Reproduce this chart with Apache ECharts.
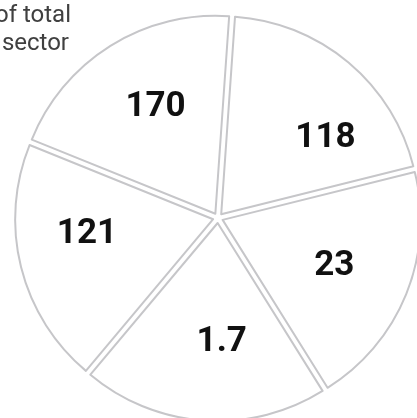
<!DOCTYPE html>
<html>
<head>
<meta charset="utf-8">
<script src="https://cdn.jsdelivr.net/npm/echarts@6/dist/echarts.min.js"></script>
<style>
  html, body { margin: 0; padding: 0; background: #ffffff; }
  #chart { width: 417px; height: 418px; }
</style>
</head>
<body>
<div id="chart"></div>
<script>
// Sectors listed clockwise, starting just right of twelve o'clock
const sectors = ['Sector 1', 'Sector 2', 'Sector 3', 'Sector 4', 'Sector 5'];
const amounts = [118, 23, 1.7, 121, 170];
// Every sector is drawn as an equal wedge; the figure is printed on it
const wedgeShare = [1, 1, 1, 1, 1];
const captionLines = ['of total', 'sector'];

const chart = echarts.init(document.getElementById('chart'), null, { renderer: 'canvas' });

const outline = '#c6c6c9';
const pieCenter = [218, 218];
const pieRadius = 198;

// small per-wedge nudges so each figure sits where it reads best
const labelNudge = [[22, 22], [-7, -2], [13, -8], [-2, -16], [8, 2]];

const wedges = sectors.map((name, i) => ({
  name: name,
  value: wedgeShare[i],
  amount: amounts[i],
  selected: true
}));

const labelItems = sectors.map((name, i) => ({
  name: name,
  value: wedgeShare[i],
  amount: amounts[i],
  label: { offset: labelNudge[i] }
}));

const option = {
  backgroundColor: '#ffffff',
  animation: false,
  graphic: [
    {
      type: 'text',
      right: 417 - 71,
      top: 4,
      style: {
        text: captionLines[0],
        font: '400 24px "Roboto", "Noto Sans", sans-serif',
        fill: '#404040',
        textAlign: 'right'
      }
    },
    {
      type: 'text',
      right: 417 - 69,
      top: 32,
      style: {
        text: captionLines[1],
        font: '400 24px "Roboto", "Noto Sans", sans-serif',
        fill: '#404040',
        textAlign: 'right'
      }
    }
  ],
  series: [
    {
      type: 'pie',
      center: pieCenter,
      radius: [0, pieRadius],
      startAngle: 86,
      clockwise: true,
      selectedMode: 'multiple',
      selectedOffset: 5,
      silent: true,
      label: { show: false },
      labelLine: { show: false },
      itemStyle: { color: '#ffffff', borderColor: outline, borderWidth: 2 },
      select: { itemStyle: { color: '#ffffff', borderColor: outline, borderWidth: 2 } },
      emphasis: { disabled: true },
      data: wedges
    },
    {
      // label layer: inner/outer radius place the figures ~130px out
      type: 'pie',
      center: pieCenter,
      radius: [62, pieRadius],
      startAngle: 86,
      clockwise: true,
      silent: true,
      itemStyle: { color: 'rgba(0,0,0,0)', borderWidth: 0 },
      emphasis: { disabled: true },
      labelLine: { show: false },
      label: {
        show: true,
        position: 'inside',
        formatter: (p) => String(p.data.amount),
        fontFamily: 'Roboto, "Liberation Sans", sans-serif',
        fontWeight: 'bold',
        fontSize: 35,
        color: '#111111'
      },
      data: labelItems
    }
  ]
};

chart.setOption(option);
</script>
</body>
</html>
